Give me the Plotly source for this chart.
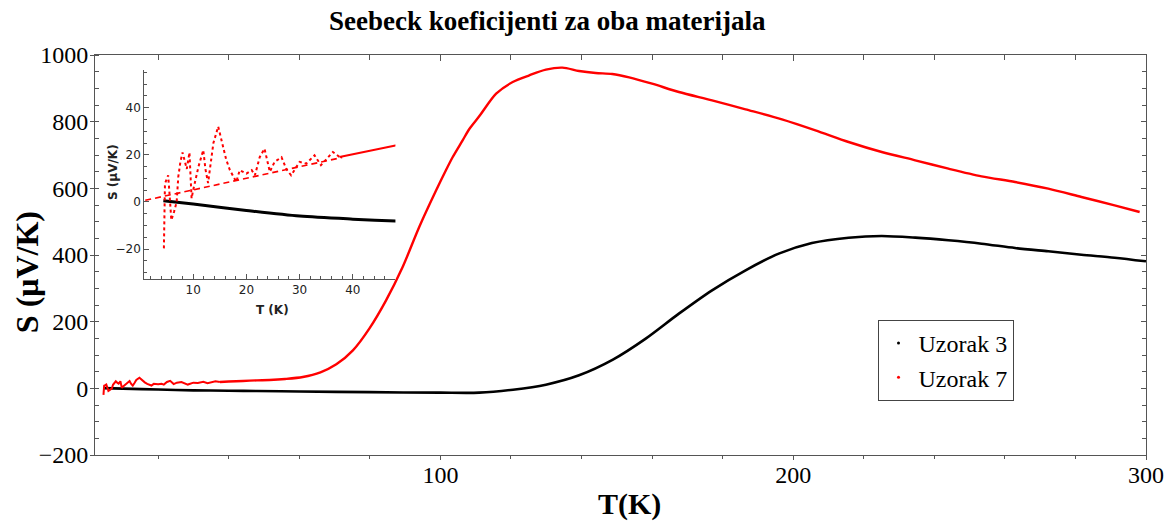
import plotly.graph_objects as go

# ---------------- data ----------------
# Uzorak 3 (black)
T3 = [4.4, 10, 20, 30, 40, 48, 60, 80, 100, 111, 120.6, 129.9, 139.3, 148.9, 158.2,
      167.6, 177, 186.5, 195.9, 205.3, 215.7, 225.1, 234.6, 244, 253.4, 262.9,
      272.3, 281.7, 291.1, 300]
S3 = [0.5, -0.9, -3.6, -6, -7.3, -8.1, -9.5, -11.5, -13, -13, -4, 11, 39, 86, 149,
      224, 294, 354, 404, 436, 452, 457, 452, 444, 434, 421,
      411, 401, 392, 381]

# Uzorak 7 (red) - noisy low-temperature part
T7_low = [4.5, 4.7, 5.0, 5.3, 5.6, 5.9, 6.4, 6.9, 7.2, 7.6, 8.0, 8.4, 8.8, 9.3, 9.7,
          10.0, 10.5, 11.0, 11.9, 12.3, 12.8, 13.3, 13.8, 14.7, 15.5, 16.2, 16.9,
          18.1, 18.75, 20, 21, 21.6, 22.5, 23.4, 24.4, 25.3, 26.6, 27.5, 28.4, 30,
          31.25, 32.8, 34, 36.25, 37.5]
S7_low = [-19.7, 7.8, 9.5, 11.3, 2, -7.7, -4.2, 0, 10.6, 17, 21, 17, 14, 21, 1.5,
          5, 10, 15, 22, 14, 8, 16, 25, 32, 24, 18, 13.5,
          8.5, 13.5, 12, 13.5, 11.3, 19, 22.6, 12.8, 17, 19, 14, 11.3, 17,
          16.3, 19.8, 15.6, 21.2, 19.1]
# Uzorak 7 (red) - smooth part
T7_high = [37.5, 40, 44, 48, 51.6, 56, 61, 66, 70.5, 75.2, 79.9, 84.6, 89.3, 94, 98.8,
           101.6, 103.5, 106.3, 108.2, 111, 115.8, 120.5, 125.2, 129.9, 134.6, 139.3,
           144, 148.7, 153.5, 160, 167.6, 177, 186.5, 196.8, 206.3, 215.7, 225.1,
           234.6, 244, 253.4, 262.9, 272.3, 281.7, 291.1, 298.2]
S7_high = [19.1, 20.3, 22.2, 24, 25, 28, 34, 48, 72, 114, 180, 264, 364, 484, 594,
           655, 694, 744, 778, 816, 884, 919, 939, 956, 962, 952,
           946, 943, 933, 914, 889, 864, 837, 807, 774, 739, 709,
           684, 659, 636, 619, 599, 574, 549, 529]

# linear fit (dashed) shown in the inset
T_fit = [1.0, 38.0]
S_fit = [0.7, 18.9]

RED = "#ff0000"
BLACK = "#000000"
AX = "#555555"
SERIF = "Liberation Serif, Times New Roman, serif"
SANS = "DejaVu Sans, sans-serif"

# plot-area pixel geometry
L, R, TOP, BOT = 95, 1148, 55, 455
def xp(x):
    return (x - L) / (R - L)
def yp(y):
    return (BOT - y) / (BOT - TOP)

fig = go.Figure()

# main curves
fig.add_trace(go.Scatter(x=T3, y=S3, mode="lines",
                         line=dict(color=BLACK, width=2.6, shape="spline", smoothing=0.8),
                         showlegend=False, xaxis="x", yaxis="y"))
fig.add_trace(go.Scatter(x=T7_low, y=S7_low, mode="lines",
                         line=dict(color=RED, width=2.0),
                         showlegend=False, xaxis="x", yaxis="y"))
fig.add_trace(go.Scatter(x=T7_high, y=S7_high, mode="lines",
                         line=dict(color=RED, width=2.4, shape="spline", smoothing=0.8),
                         showlegend=False, xaxis="x", yaxis="y"))
# legend entries (tiny dots)
fig.add_trace(go.Scatter(x=[None], y=[None], mode="markers", name="Uzorak 3",
                         marker=dict(color=BLACK, size=3), xaxis="x", yaxis="y"))
fig.add_trace(go.Scatter(x=[None], y=[None], mode="markers", name="Uzorak 7",
                         marker=dict(color=RED, size=3), xaxis="x", yaxis="y"))
# dummy traces for mirror axes
fig.add_trace(go.Scatter(x=[None], y=[None], showlegend=False, xaxis="x2", yaxis="y"))
fig.add_trace(go.Scatter(x=[None], y=[None], showlegend=False, xaxis="x", yaxis="y2"))

# inset curves
fig.add_trace(go.Scatter(x=T3, y=S3, mode="lines",
                         line=dict(color=BLACK, width=3, shape="spline", smoothing=0.8),
                         showlegend=False, xaxis="x3", yaxis="y3"))
fig.add_trace(go.Scatter(x=T_fit, y=S_fit, mode="lines",
                         line=dict(color=RED, width=1.6, dash="6px,4px"),
                         showlegend=False, xaxis="x3", yaxis="y3"))
fig.add_trace(go.Scatter(x=T7_low, y=S7_low, mode="lines",
                         line=dict(color=RED, width=2, dash="dot"),
                         showlegend=False, xaxis="x3", yaxis="y3"))
fig.add_trace(go.Scatter(x=T7_high, y=S7_high, mode="lines",
                         line=dict(color=RED, width=2),
                         showlegend=False, xaxis="x3", yaxis="y3"))

xr = [2.1, 300]
yr = [-200, 1000]
tickfont = dict(family=SERIF, size=24, color=BLACK)

fig.update_layout(
    width=1176, height=522,
    margin=dict(l=L, r=1176 - R, t=TOP, b=522 - BOT),
    paper_bgcolor="white", plot_bgcolor="white",
    xaxis=dict(range=xr, domain=[0, 1], anchor="y", showgrid=False, zeroline=False,
               showline=True, linecolor=AX, linewidth=1,
               tickmode="linear", tick0=0, dtick=100, ticks="outside", ticklen=4,
               tickcolor=AX, tickfont=tickfont, ticklabelstandoff=-6,
               minor=dict(dtick=20, tick0=0, ticks="outside", ticklen=3, tickcolor=AX)),
    xaxis2=dict(range=xr, overlaying="x", side="top", anchor="y", showgrid=False,
                zeroline=False, showline=True, linecolor=AX, linewidth=1,
                tickmode="linear", tick0=0, dtick=100, ticks="inside", ticklen=6,
                tickcolor=AX, showticklabels=False,
                minor=dict(dtick=20, tick0=0, ticks="inside", ticklen=5, tickcolor=AX)),
    yaxis=dict(range=yr, domain=[0, 1], anchor="x", showgrid=False, zeroline=False,
               showline=True, linecolor=AX, linewidth=1,
               tickmode="linear", tick0=0, dtick=200, ticks="outside", ticklen=4,
               tickcolor=AX, tickfont=tickfont, ticklabelstandoff=-3,
               minor=dict(dtick=50, tick0=0, ticks="inside", ticklen=4, tickcolor=AX)),
    yaxis2=dict(range=yr, overlaying="y", side="right", anchor="x", showgrid=False,
                zeroline=False, showline=True, linecolor=AX, linewidth=1,
                tickmode="linear", tick0=0, dtick=200, ticks="inside", ticklen=5,
                tickcolor=AX, showticklabels=False,
                minor=dict(dtick=50, tick0=0, ticks="inside", ticklen=4, tickcolor=AX)),
    xaxis3=dict(range=[0.8, 48], domain=[xp(144.3), xp(396)], anchor="y3",
                showgrid=False, zeroline=False, showline=True, linecolor=AX, linewidth=1,
                tickmode="linear", tick0=0, dtick=10, ticks="inside", ticklen=5,
                tickcolor=AX, tickfont=dict(family=SANS, size=12, color="#222"),
                minor=dict(dtick=2, tick0=0, ticks="inside", ticklen=3, tickcolor=AX)),
    yaxis3=dict(range=[-32.7, 56], domain=[yp(279), yp(70)], anchor="x3",
                showgrid=False, zeroline=False, showline=True, linecolor=AX, linewidth=1,
                tickmode="linear", tick0=0, dtick=20, ticks="inside", ticklen=5,
                tickcolor=AX, tickfont=dict(family=SANS, size=12, color="#222"),
                minor=dict(dtick=5, tick0=0, ticks="inside", ticklen=3, tickcolor=AX)),
    legend=dict(x=xp(879), y=yp(320), xanchor="left", yanchor="top",
                bordercolor="#444", borderwidth=1, bgcolor="white",
                font=dict(family=SERIF, size=24, color=BLACK),
                itemsizing="trace", tracegroupgap=0),
    showlegend=True,
)

ann = [
    dict(text="<b>Seebeck koeficijenti za oba materijala</b>", x=xp(548), y=yp(21),
         font=dict(family=SERIF, size=27, color=BLACK)),
    dict(text="<b>T(K)</b>", x=xp(631), y=yp(504),
         font=dict(family=SERIF, size=30, color=BLACK)),
    dict(text="<b>S (μV/K)</b>", x=xp(27), y=yp(272), textangle=-90,
         font=dict(family=SERIF, size=32, color=BLACK)),
    dict(text="<b>S (μV/K)</b>", x=xp(113), y=yp(172), textangle=-90,
         font=dict(family=SANS, size=12, color="#222")),
    dict(text="<b>T (K)</b>", x=xp(273), y=yp(310),
         font=dict(family=SANS, size=12, color="#222")),
]
for a in ann:
    a.update(xref="paper", yref="paper", showarrow=False, xanchor="center", yanchor="middle")
    fig.add_annotation(**a)

fig.write_html("out.html", config={"displayModeBar": False},
               post_script="document.body.style.margin='0px';")
